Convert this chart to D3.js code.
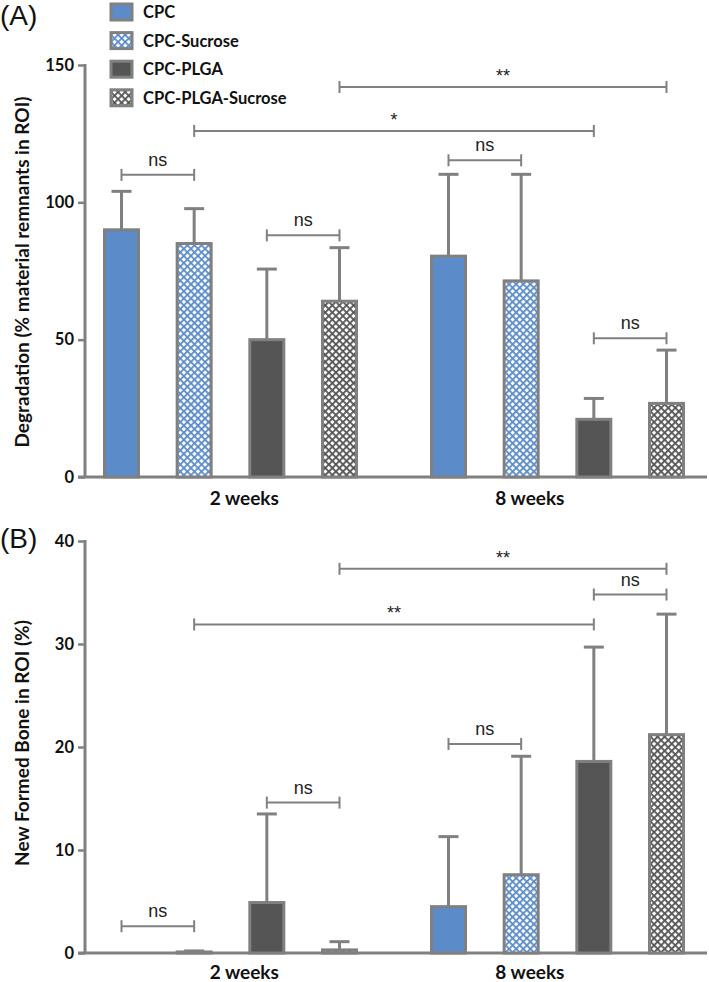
<!DOCTYPE html>
<html><head><meta charset="utf-8">
<script src="https://cdn.jsdelivr.net/npm/d3@7"></script>
<style>
html,body{margin:0;padding:0;background:#fff;}
svg{display:block;}
</style></head>
<body>
<script>
// ---------- DATA ----------
const groups = ["2 weeks", "8 weeks"];
const series = ["CPC", "CPC-Sucrose", "CPC-PLGA", "CPC-PLGA-Sucrose"];

// Panel A: Degradation (% material remnants in ROI)
const degMean = [[90, 85, 50, 64], [80.4, 71.4, 21, 26.8]];
const degErr  = [[104, 97.7, 75.7, 83.5], [110.2, 110.2, 28.6, 46.2]];
const degTicks = [0, 50, 100, 150];
// brackets: [group, series, group, series, y-level, label]
const degSig = [
  [0, 0, 0, 1, 110, "ns"],
  [0, 2, 0, 3, 88, "ns"],
  [0, 1, 1, 2, 126, "*"],
  [0, 3, 1, 3, 142, "**"],
  [1, 0, 1, 1, 115.3, "ns"],
  [1, 2, 1, 3, 50.5, "ns"]
];

// Panel B: New Formed Bone in ROI (%)
const boneMean = [[0, 0.1, 4.9, 0.3], [4.5, 7.6, 18.6, 21.2]];
const boneErr  = [[0, 0.2, 13.5, 1.1], [11.3, 19.1, 29.7, 32.9]];
const boneTicks = [0, 10, 20, 30, 40];
const boneSig = [
  [0, 0, 0, 1, 2.6, "ns"],
  [0, 2, 0, 3, 14.6, "ns"],
  [0, 1, 1, 2, 31.9, "**"],
  [0, 3, 1, 3, 37.3, "**"],
  [1, 0, 1, 1, 20.3, "ns"],
  [1, 2, 1, 3, 34.8, "ns"]
];

// ---------- STYLE ----------
const W = 709, H = 982;
const gray = "#808080";
const blue = "#5b8cc9";
const dark = "#555555";
const boldFont = "Lato, 'Open Sans', sans-serif";
const armFont = "'Liberation Sans', Arial, sans-serif";

const svg = d3.select("body").append("svg").attr("width", W).attr("height", H);
const defs = svg.append("defs");
function hatch(id, col) {
  const p = defs.append("pattern").attr("id", id).attr("patternUnits", "userSpaceOnUse")
    .attr("width", 5).attr("height", 5).attr("patternTransform", "rotate(45)");
  p.append("rect").attr("width", 5).attr("height", 5).attr("fill", "#fff");
  p.append("rect").attr("x", 0).attr("y", 0).attr("width", 1.8).attr("height", 5).attr("fill", col);
  p.append("rect").attr("x", 0).attr("y", 0).attr("width", 5).attr("height", 1.8).attr("fill", col);
}
hatch("hBlue", blue);
hatch("hDark", dark);
const fills = [blue, "url(#hBlue)", dark, "url(#hDark)"];

// slot position: group 0 -> slots 0..3, group 1 -> slots 4.5..7.5
const slot = (g, s) => g * 4.5 + s;
const x = d3.scaleLinear().domain([0, 7.5]).range([121.5, 666.5]);
const labelSlot = [1.69, 5.62];
const barW = 34;

function panel(cfg) {
  const y = d3.scaleLinear().domain(cfg.domain).range([cfg.y0, cfg.y1]);
  const g = svg.append("g");
  // y axis
  const ax = g.append("g").attr("transform", `translate(85,0)`)
    .call(d3.axisLeft(y).tickValues(cfg.ticks).tickSize(7).tickPadding(4).tickFormat(d3.format("d")));
  ax.select(".domain").remove();
  ax.selectAll(".tick line").attr("stroke", gray).attr("stroke-width", 2.5);
  ax.selectAll(".tick text").attr("fill", "#111").attr("font-family", boldFont)
    .attr("font-weight", "bold").attr("font-size", 16.5);
  g.append("line").attr("x1", 85).attr("x2", 85).attr("y1", y(cfg.domain[1]) - 1).attr("y2", y(0))
    .attr("stroke", gray).attr("stroke-width", 3);
  // x axis line
  g.append("line").attr("x1", 78).attr("x2", 707).attr("y1", y(0)).attr("y2", y(0))
    .attr("stroke", gray).attr("stroke-width", 3);

  // bars
  const data = [];
  cfg.mean.forEach((row, gi) => row.forEach((v, si) => data.push({gi, si, v, e: cfg.err[gi][si]})));
  const bars = data.filter(d => d.v > 0);
  // error bars
  g.selectAll(".eb").data(bars).join("line")
    .attr("x1", d => x(slot(d.gi, d.si))).attr("x2", d => x(slot(d.gi, d.si)))
    .attr("y1", d => y(d.v)).attr("y2", d => y(d.e))
    .attr("stroke", gray).attr("stroke-width", 3);
  g.selectAll(".ec").data(bars).join("line")
    .attr("x1", d => x(slot(d.gi, d.si)) - 10).attr("x2", d => x(slot(d.gi, d.si)) + 10)
    .attr("y1", d => y(d.e)).attr("y2", d => y(d.e))
    .attr("stroke", gray).attr("stroke-width", 3);
  g.selectAll(".bar").data(bars).join("rect")
    .attr("x", d => x(slot(d.gi, d.si)) - barW / 2)
    .attr("width", barW)
    .attr("y", d => y(d.v))
    .attr("height", d => y(0) - y(d.v))
    .attr("fill", d => fills[d.si])
    .attr("stroke", gray).attr("stroke-width", 3);

  // category labels
  g.selectAll(".cat").data(groups).join("text")
    .attr("x", (d, i) => x(labelSlot[i])).attr("y", cfg.catY)
    .attr("text-anchor", "middle").attr("font-family", boldFont).attr("font-weight", "bold")
    .attr("font-size", 19).attr("fill", "#111").text(d => d);

  // y title
  g.append("text").attr("transform", `translate(${cfg.titleX},${cfg.titleY}) rotate(-90)`)
    .attr("text-anchor", "middle").attr("font-family", boldFont).attr("font-weight", "bold")
    .attr("font-size", 19).attr("fill", "#111").text(cfg.title);

  // significance brackets
  const sg = g.selectAll(".sig").data(cfg.sig).join("g");
  sg.append("line")
    .attr("x1", d => x(slot(d[0], d[1]))).attr("x2", d => x(slot(d[2], d[3])))
    .attr("y1", d => y(d[4])).attr("y2", d => y(d[4]))
    .attr("stroke", gray).attr("stroke-width", 2);
  sg.append("line")
    .attr("x1", d => x(slot(d[0], d[1]))).attr("x2", d => x(slot(d[0], d[1])))
    .attr("y1", d => y(d[4]) - 6).attr("y2", d => y(d[4]) + 6)
    .attr("stroke", gray).attr("stroke-width", 2);
  sg.append("line")
    .attr("x1", d => x(slot(d[2], d[3]))).attr("x2", d => x(slot(d[2], d[3])))
    .attr("y1", d => y(d[4]) - 6).attr("y2", d => y(d[4]) + 6)
    .attr("stroke", gray).attr("stroke-width", 2);
  sg.append("text")
    .attr("x", d => (x(slot(d[0], d[1])) + x(slot(d[2], d[3]))) / 2)
    .attr("y", d => y(d[4]) - (d[5] === "ns" ? 9 : 5))
    .attr("text-anchor", "middle").attr("font-family", armFont)
    .attr("font-size", d => d[5] === "ns" ? 18 : 18).attr("fill", "#222").text(d => d[5]);

  // panel letter
  svg.append("text").attr("x", 0).attr("y", cfg.letterY).attr("font-family", armFont)
    .attr("font-size", 28).attr("fill", "#111").text(cfg.letter);
}

panel({domain: [0, 150], y0: 477, y1: 65, ticks: degTicks, mean: degMean, err: degErr,
  sig: degSig, title: "Degradation (% material remnants in ROI)", titleX: 29, titleY: 272,
  letter: "(A)", letterY: 25, catY: 505});
panel({domain: [0, 40], y0: 953, y1: 541, ticks: boneTicks, mean: boneMean, err: boneErr,
  sig: boneSig, title: "New Formed Bone in ROI (%)", titleX: 29, titleY: 743,
  letter: "(B)", letterY: 548, catY: 979});

// legend
const leg = svg.append("g");
const lrow = leg.selectAll("g").data(series).join("g")
  .attr("transform", (d, i) => `translate(111,${12 + i * 28.6})`);
lrow.append("rect").attr("x", 0).attr("y", -8).attr("width", 21).attr("height", 16)
  .attr("fill", (d, i) => fills[i]).attr("stroke", gray).attr("stroke-width", 3);
lrow.append("text").attr("x", 32).attr("y", 6).attr("font-family", boldFont)
  .attr("font-weight", "bold").attr("font-size", 16.5).attr("fill", "#111").text(d => d);
</script>
</body></html>
